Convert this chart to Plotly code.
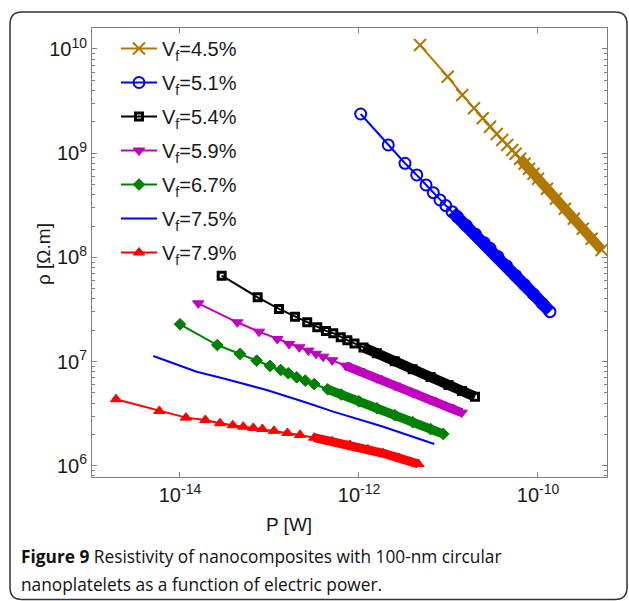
import plotly.graph_objects as go

# ---------------- data ----------------
labels = ["V<sub>f</sub>=4.5%", "V<sub>f</sub>=5.1%", "V<sub>f</sub>=5.4%", "V<sub>f</sub>=5.9%",
          "V<sub>f</sub>=6.7%", "V<sub>f</sub>=7.5%", "V<sub>f</sub>=7.9%"]

P_45 = [4.81e-12, 9.80e-12, 1.426e-11, 1.928e-11, 2.410e-11, 2.911e-11, 3.459e-11, 3.990e-11,
        4.539e-11, 5.164e-11, 5.62e-11, 6.31e-11, 7.08e-11, 7.94e-11, 8.91e-11, 1.00e-10,
        1.259e-10, 1.585e-10, 1.995e-10, 2.512e-10, 3.162e-10, 3.981e-10, 5.152e-10]
rho_45 = [1.091e10, 5.420e9, 3.622e9, 2.698e9, 2.163e9, 1.795e9, 1.528e9, 1.340e9,
          1.199e9, 1.074e9, 9.886e8, 8.851e8, 7.925e8, 7.096e8, 6.353e8, 5.689e8,
          4.560e8, 3.656e8, 2.931e8, 2.350e8, 1.884e8, 1.510e8, 1.178e8]

P_51 = [1.045e-12, 2.123e-12, 3.266e-12, 4.416e-12, 5.610e-12, 6.761e-12, 8.035e-12, 9.333e-12,
        1.096e-11, 1.259e-11, 1.585e-11, 1.995e-11, 2.512e-11, 2.911e-11, 3.548e-11, 4.467e-11,
        5.623e-11, 7.079e-11, 8.913e-11, 1.122e-10, 1.361e-10]
rho_51 = [2.377e9, 1.199e9, 7.998e8, 6.180e8, 4.955e8, 4.178e8, 3.556e8, 3.141e8,
          2.748e8, 2.449e8, 2.023e8, 1.671e8, 1.380e8, 1.222e8, 1.021e8, 8.279e7,
          6.714e7, 5.458e7, 4.426e7, 3.589e7, 3.013e7]

P_54 = [2.924e-14, 7.379e-14, 1.276e-13, 1.928e-13, 2.642e-13, 3.420e-13, 4.276e-13, 5.164e-13,
        6.252e-13, 7.413e-13, 8.913e-13, 1.122e-12, 1.585e-12, 2.512e-12, 3.981e-12, 6.310e-12,
        1.000e-11, 1.413e-11, 1.977e-11]
rho_54 = [6.668e7, 4.140e7, 3.199e7, 2.698e7, 2.382e7, 2.133e7, 1.968e7, 1.871e7,
          1.710e7, 1.603e7, 1.493e7, 1.368e7, 1.199e7, 1.007e7, 8.453e6, 7.096e6,
          5.957e6, 5.224e6, 4.603e6]

P_59 = [1.600e-14, 4.365e-14, 7.638e-14, 1.222e-13, 1.652e-13, 2.153e-13, 2.716e-13, 3.311e-13,
        3.981e-13, 5.012e-13, 7.079e-13, 1.000e-12, 1.585e-12, 2.512e-12, 3.981e-12, 6.310e-12,
        1.000e-11, 1.403e-11]
rho_59 = [3.622e7, 2.382e7, 1.936e7, 1.648e7, 1.476e7, 1.371e7, 1.274e7, 1.189e7,
          1.114e7, 1.030e7, 9.141e6, 8.110e6, 6.902e6, 5.888e6, 5.012e6, 4.276e6,
          3.648e6, 3.236e6]

P_67 = [1.000e-14, 2.612e-14, 4.677e-14, 7.194e-14, 1.014e-13, 1.334e-13, 1.622e-13, 2.014e-13,
        2.512e-13, 3.162e-13, 4.467e-13, 6.310e-13, 1.000e-12, 1.585e-12, 2.512e-12, 3.981e-12,
        6.310e-12, 8.750e-12]
rho_67 = [2.280e7, 1.442e7, 1.183e7, 1.021e7, 9.078e6, 8.299e6, 7.727e6, 7.063e6,
          6.561e6, 6.081e6, 5.420e6, 4.831e6, 4.150e6, 3.565e6, 3.055e6, 2.624e6,
          2.249e6, 2.018e6]

P_75 = [5.035e-15, 7.943e-15, 1.259e-14, 1.538e-14, 3.162e-14, 9.311e-14, 2.512e-13, 5.164e-13,
        1.871e-12, 3.981e-12, 6.934e-12]
rho_75 = [1.132e7, 9.772e6, 8.414e6, 7.998e6, 6.839e6, 5.333e6, 4.074e6, 3.304e6,
          2.371e6, 1.905e6, 1.618e6]

P_79 = [1.928e-15, 5.875e-15, 1.167e-14, 1.919e-14, 2.799e-14, 3.882e-14, 5.093e-14, 6.592e-14,
        8.318e-14, 1.122e-13, 1.585e-13, 2.193e-13, 3.162e-13, 5.012e-13, 7.925e-13, 1.259e-12,
        1.871e-12, 2.818e-12, 4.603e-12]
rho_79 = [4.345e6, 3.357e6, 2.897e6, 2.754e6, 2.559e6, 2.449e6, 2.371e6, 2.307e6,
          2.254e6, 2.163e6, 2.065e6, 1.977e6, 1.858e6, 1.714e6, 1.585e6, 1.435e6,
          1.318e6, 1.183e6, 1.040e6]

x_tickvals = [1e-14, 1e-12, 1e-10]
x_ticktext = ["10<sup>-14</sup>", "10<sup>-12</sup>", "10<sup>-10</sup>"]
y_tickvals = [1e6, 1e7, 1e8, 1e9, 1e10]
y_ticktext = ["10<sup>6</sup>", "10<sup>7</sup>", "10<sup>8</sup>", "10<sup>9</sup>", "10<sup>10</sup>"]

# ---------------- styling ----------------
W, H = 629, 601
ML, MR, MT, MB = 92, 22, 28, 124
PW, PH = W - ML - MR, H - MT - MB


def px(xp):
    return (xp - ML) / PW


def py(yp):
    return (MT + PH - yp) / PH


# (x, y, name, colour, symbol, marker size, marker line width, band start index, band width, mode)
series = [
    (P_45, rho_45, labels[0], "#b07800", "x-thin-open", 12, 2, 11, 10, "lines+markers"),
    (P_51, rho_51, labels[1], "#0000ff", "circle-open", 11, 2, 8, 12, "lines+markers"),
    (P_54, rho_54, labels[2], "#000000", "square-open", 7, 3, 11, 10, "lines+markers"),
    (P_59, rho_59, labels[3], "#bf00bf", "triangle-down", 10, 1, 10, 9, "lines+markers"),
    (P_67, rho_67, labels[4], "#008000", "diamond", 9, 1, 10, 9, "lines+markers"),
    (P_75, rho_75, labels[5], "#0000ff", None, 0, 0, None, 0, "lines"),
    (P_79, rho_79, labels[6], "#ff0000", "triangle-up", 10, 1, 12, 9, "lines+markers"),
]

fig = go.Figure()
for P, R, name, col, sym, msize, mlw, band_from, band_w, mode in series:
    if band_from is not None:
        fig.add_trace(go.Scatter(
            x=P[band_from:], y=R[band_from:], mode="lines",
            line=dict(color=col, width=band_w), legendgroup=name, showlegend=False,
            hoverinfo="skip"))
    kw = {}
    if sym is not None:
        kw["marker"] = dict(symbol=sym, size=msize, color=col,
                            line=dict(color=col, width=mlw))
    fig.add_trace(go.Scatter(x=P, y=R, mode=mode, name=name, legendgroup=name,
                             line=dict(color=col, width=2), **kw))

axis_common = dict(
    type="log", showline=True, linecolor="#808080", linewidth=1, mirror="allticks",
    ticks="inside", ticklen=5, tickcolor="#808080", showgrid=False, zeroline=False,
    tickfont=dict(family="Liberation Sans, Arial, sans-serif", size=20, color="#1a1a1a"),
)

fig.update_xaxes(range=[-14.983, -9.229], tickmode="array", tickvals=x_tickvals,
                 ticktext=x_ticktext, **axis_common)
fig.update_yaxes(range=[5.892, 10.2015], tickmode="array", tickvals=y_tickvals,
                 ticktext=y_ticktext,
                 minor=dict(ticks="inside", ticklen=3, tickcolor="#808080", dtick="D1",
                            showgrid=False),
                 **axis_common)

txt_font = dict(family="Liberation Sans, Arial, sans-serif", size=19, color="#1a1a1a")
cap_font = dict(family="Open Sans, sans-serif", size=17.3, color="#111111")

annotations = [
    dict(text="ρ [Ω.m]", x=px(44), y=py(254), xref="paper", yref="paper", showarrow=False,
         textangle=-90, font=txt_font, xanchor="center", yanchor="middle"),
    dict(text="P [W]", x=px(289), y=py(524), xref="paper", yref="paper", showarrow=False,
         font=txt_font, xanchor="center", yanchor="middle"),
    dict(text="<b>Figure 9</b> Resistivity of nanocomposites with 100-nm circular",
         x=px(19), y=py(556), xref="paper", yref="paper", showarrow=False,
         font=cap_font, xanchor="left", yanchor="middle", align="left"),
    dict(text="nanoplatelets as a function of electric power.",
         x=px(19), y=py(584), xref="paper", yref="paper", showarrow=False,
         font=cap_font, xanchor="left", yanchor="middle", align="left"),
]

# rounded frame around the whole figure
L, R_, T, B, r = 10, 627, 12, 599.5, 12
pts = lambda a, b: f"{px(a):.5f},{py(b):.5f}"
frame_path = (f"M{pts(L + r, T)} L{pts(R_ - r, T)} Q{pts(R_, T)} {pts(R_, T + r)} "
              f"L{pts(R_, B - r)} Q{pts(R_, B)} {pts(R_ - r, B)} L{pts(L + r, B)} "
              f"Q{pts(L, B)} {pts(L, B - r)} L{pts(L, T + r)} Q{pts(L, T)} {pts(L + r, T)} Z")

fig.update_layout(
    width=W, height=H, margin=dict(l=ML, r=MR, t=MT, b=MB),
    paper_bgcolor="white", plot_bgcolor="white",
    showlegend=True,
    legend=dict(x=px(116), y=py(29), xanchor="left", yanchor="top",
                font=dict(family="Liberation Sans, Arial, sans-serif", size=20, color="#1a1a1a"),
                bgcolor="rgba(0,0,0,0)", traceorder="grouped", tracegroupgap=5,
                itemwidth=36),
    annotations=annotations,
    shapes=[dict(type="path", path=frame_path, xref="paper", yref="paper",
                 line=dict(color="#333333", width=1.5), layer="above")],
)

fig.write_html("out.html", config={"displayModeBar": False},
               post_script="document.body.style.margin='0';document.body.style.overflow='hidden';")
